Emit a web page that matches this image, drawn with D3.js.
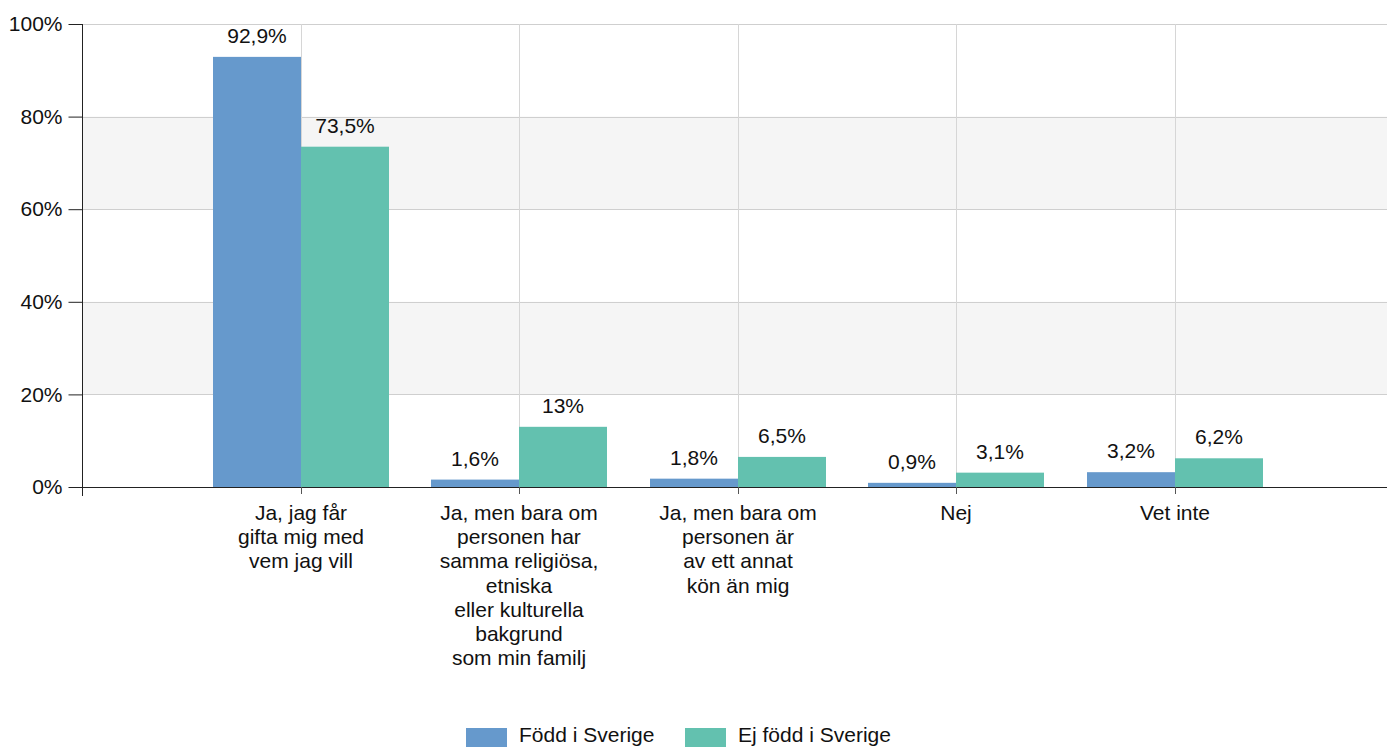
<!DOCTYPE html>
<html><head><meta charset="utf-8">
<script src="https://cdn.jsdelivr.net/npm/d3@7"></script>
<style>
html,body{margin:0;padding:0;background:#fff;overflow:hidden;}
text{font-family:"Liberation Sans",Arial,sans-serif;fill:#111;}
</style></head>
<body>
<svg id="c" width="1387" height="747"></svg>
<script>
const categories = [
  ["Ja, jag får","gifta mig med","vem jag vill"],
  ["Ja, men bara om","personen har","samma religiösa,","etniska","eller kulturella","bakgrund","som min familj"],
  ["Ja, men bara om","personen är","av ett annat","kön än mig"],
  ["Nej"],
  ["Vet inte"]
];
const seriesNames = ["Född i Sverige","Ej född i Sverige"];
const fodd = [92.9, 1.6, 1.8, 0.9, 3.2];
const ejFodd = [73.5, 13, 6.5, 3.1, 6.2];
const valueLabels = [["92,9%","1,6%","1,8%","0,9%","3,2%"],["73,5%","13%","6,5%","3,1%","6,2%"]];
const yTicks = [0,20,40,60,80,100];
const colors = ["#6699cc","#63c1af"];

const svg = d3.select("#c");
const L=82, T=24, B=487, R=1393;
const FS="21px";
const idx = categories.map((d,i)=>i);
const x = d3.scalePoint().domain(idx).range([L,R]).padding(1);
const y = d3.scaleLinear().domain([0,100]).range([B,T]);
const bw = 88;

// bands
const bands=[[20,40],[60,80]];
svg.selectAll("rect.band").data(bands).enter().append("rect")
  .attr("x",L).attr("width",R-L).attr("y",d=>y(d[1])).attr("height",d=>y(d[0])-y(d[1]))
  .attr("fill","#f5f5f5");
// horizontal grid
svg.selectAll("line.hg").data(yTicks.filter(t=>t>0)).enter().append("line")
  .attr("x1",L).attr("x2",R).attr("y1",d=>Math.round(y(d))+0.5).attr("y2",d=>Math.round(y(d))+0.5)
  .attr("stroke","#cfcfcf").attr("stroke-width",1);
// vertical grid
svg.selectAll("line.vg").data(idx).enter().append("line")
  .attr("x1",d=>Math.round(x(d))+0.5).attr("x2",d=>Math.round(x(d))+0.5).attr("y1",T).attr("y2",B)
  .attr("stroke","#d6d6d6").attr("stroke-width",1);

// bars
const series=[fodd,ejFodd];
series.forEach((s,si)=>{
  svg.selectAll("rect.s"+si).data(s).enter().append("rect")
    .attr("x",(d,i)=>Math.round(x(i))+(si===0?-bw:0)).attr("width",bw)
    .attr("y",d=>y(d)).attr("height",d=>B-y(d)).attr("fill",colors[si]);
  svg.selectAll("text.v"+si).data(s).enter().append("text")
    .attr("x",(d,i)=>Math.round(x(i))+(si===0?-bw/2:bw/2))
    .attr("y",d=>y(d)-14).attr("text-anchor","middle").attr("font-size",FS)
    .text((d,i)=>valueLabels[si][i]);
});

// y axis
const ya = svg.append("g").attr("transform",`translate(${L+0.5},0)`)
  .call(d3.axisLeft(y).tickValues(yTicks).tickFormat(d=>d+"%").tickSize(14).tickPadding(6).tickSizeOuter(0));
ya.select(".domain").remove();
ya.selectAll("line").attr("stroke","#222");
ya.selectAll("text").attr("font-size",FS).attr("font-family","Liberation Sans, Arial, sans-serif").attr("fill","#111");
svg.append("line").attr("x1",L+0.5).attr("x2",L+0.5).attr("y1",T).attr("y2",B+9).attr("stroke","#222");
// x axis
svg.append("line").attr("x1",L).attr("x2",R).attr("y1",B+0.5).attr("y2",B+0.5).attr("stroke","#222");
svg.selectAll("line.xt").data(idx).enter().append("line")
  .attr("x1",d=>Math.round(x(d))+0.5).attr("x2",d=>Math.round(x(d))+0.5).attr("y1",B).attr("y2",B+7)
  .attr("stroke","#555");
// category labels
const cl = svg.selectAll("text.cat").data(categories).enter().append("text")
  .attr("text-anchor","middle").attr("font-size",FS);
cl.each(function(lines,i){
  d3.select(this).selectAll("tspan").data(lines).enter().append("tspan")
    .attr("x",Math.round(x(i))).attr("y",(d,j)=>520+j*24.2).text(d=>d);
});

// legend
const lg = svg.append("g");
const lx=[466,685];
seriesNames.forEach((n,i)=>{
  lg.append("rect").attr("x",lx[i]).attr("y",728).attr("width",41).attr("height",19).attr("fill",colors[i]);
  lg.append("text").attr("x",lx[i]+53).attr("y",742).attr("font-size",FS).text(n);
});
</script>
</body></html>
